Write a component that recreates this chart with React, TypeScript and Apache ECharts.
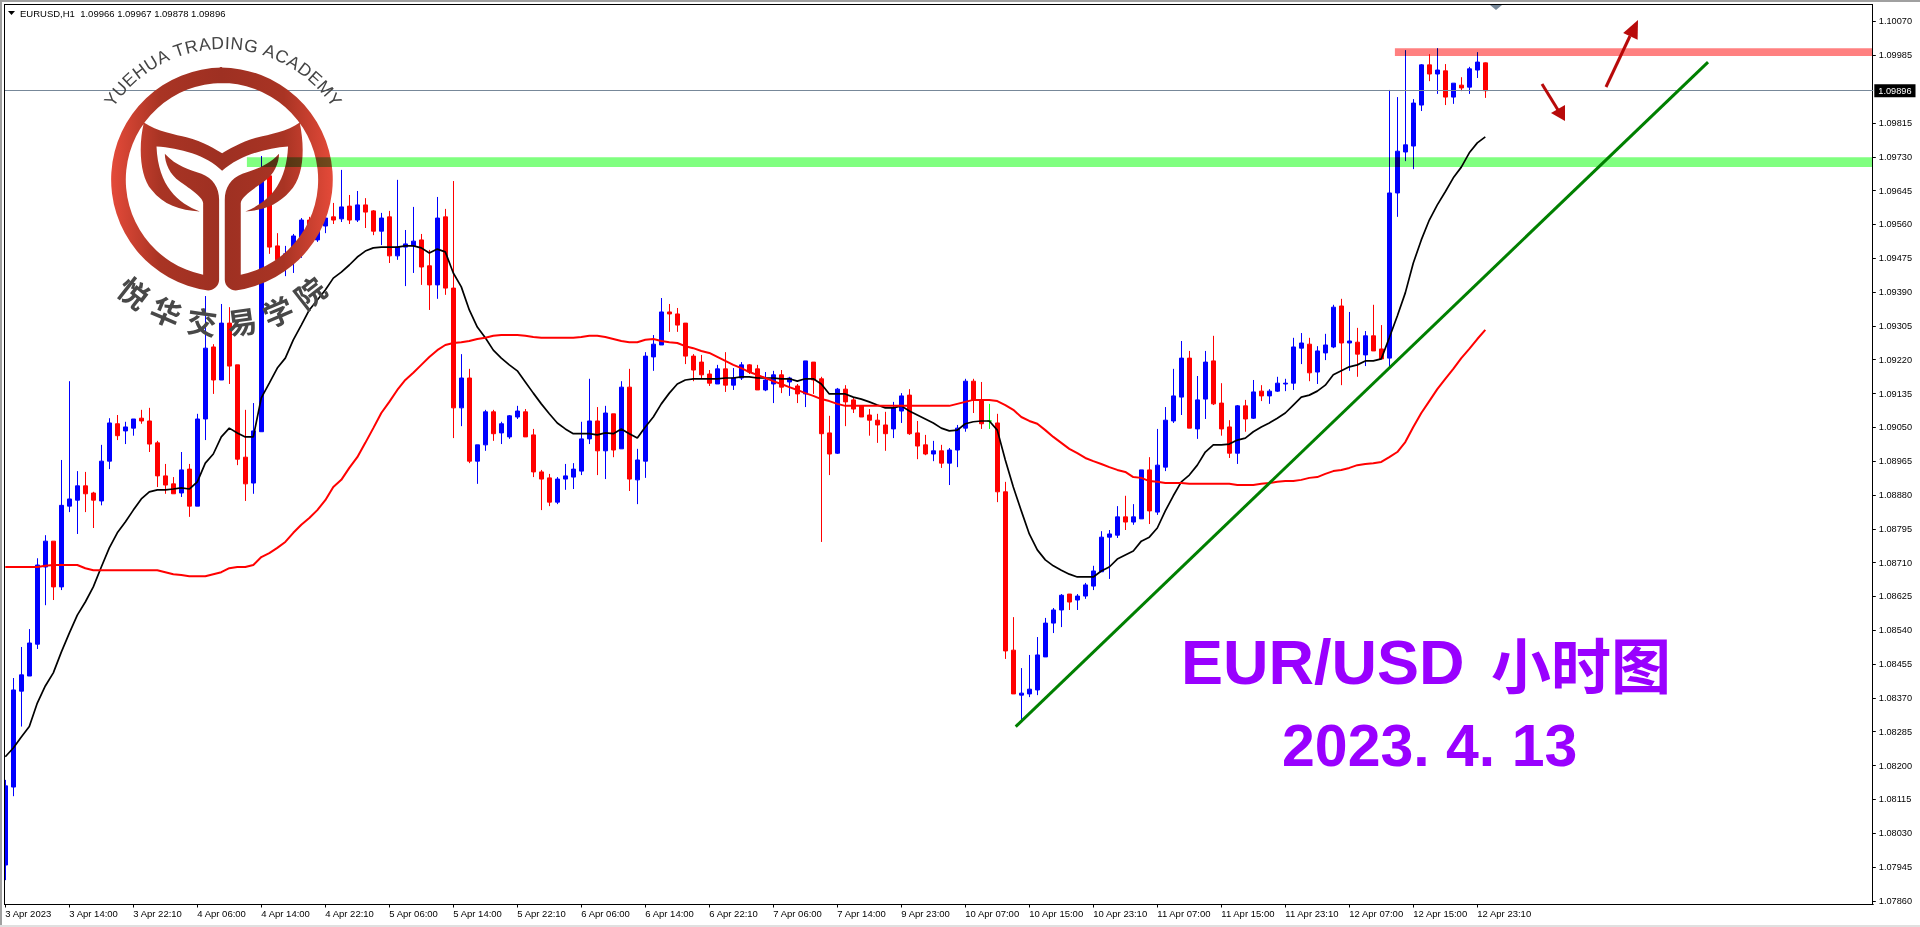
import React, { useEffect, useRef } from "react";
import * as echarts from "echarts";

// Prices are stored in points (1 point = 0.00001).
const opens = [
107950,108146,108387,108425,108505,108699,108764,108649,108852,108867,
108903,108885,108865,108965,109059,109041,109048,109073,109066,109011,
108928,108908,108885,108945,108852,109071,109252,109169,109312,109207,
108975,108910,109039,109682,109506,109456,109488,109528,109571,109521,
109556,109579,109574,109606,109571,109609,109594,109543,109579,109481,
109503,109506,109521,109456,109408,109579,109400,109099,109174,108965,
109006,109089,109036,109026,109076,109089,109031,108938,108923,108862,
108920,108925,108940,109021,109066,108991,109084,108996,109151,108918,
108965,109227,109257,109340,109335,109312,109229,109214,109184,109159,
109197,109156,109174,109207,109197,109144,109159,109182,109164,109154,
109134,109214,109172,109036,108985,109146,109119,109104,109081,109068,
109056,109046,109091,109131,109036,109006,108983,108991,108960,108993,
109048,109166,109119,109066,109061,108888,108490,108377,108380,108390,
108473,108558,108591,108631,108616,108626,108651,108687,108774,108779,
108825,108812,108820,108943,108837,108950,109066,109126,109224,109046,
109121,109217,109111,109051,108985,109104,109073,109141,109129,109141,
109159,109161,109249,109259,109189,109237,109252,109355,109262,109264,
109232,109280,109247,109224,109639,109742,109757,109860,109961,109938,
109946,109880,109910,109905,109948,109966];

const closes = [
108149,108390,108428,108508,108704,108764,108649,108854,108870,108903,
108883,108867,108965,109061,109029,109051,109071,109066,109008,108928,
108905,108883,108943,108852,109071,109249,109169,109312,109204,108970,
108908,109041,109669,109503,109471,109486,109531,109571,109533,109571,
109576,109571,109604,109571,109609,109591,109543,109576,109481,109503,
109511,109518,109453,109408,109576,109400,109099,109174,108965,109006,
109089,109034,109059,109079,109091,109026,108938,108920,108862,108920,
108928,108945,109021,109066,108991,109086,108993,109151,108920,108968,
109229,109259,109340,109335,109307,109229,109194,109182,109161,109197,
109156,109174,109207,109189,109144,109169,109182,109151,109174,109134,
109217,109169,109034,108983,109146,109114,109096,109076,109068,109056,
109034,109099,109129,109034,109003,108983,108991,108960,108993,109048,
109166,109119,109059,109066,108888,108488,108380,108382,108392,108478,
108558,108591,108628,108611,108626,108654,108689,108774,108782,108825,
108812,108825,108943,108840,108955,109068,109129,109224,109048,109119,
109214,109109,109046,108985,109104,109071,109139,109129,109141,109161,
109161,109252,109262,109187,109242,109257,109352,109262,109267,109234,
109280,109242,109222,109639,109744,109760,109865,109961,109938,109948,
109880,109915,109903,109951,109968,109896];

const lows = [
107912,108123,108298,108425,108493,108603,108616,108641,108837,108782,
108837,108797,108854,108945,109018,109008,109029,109059,108988,108900,
108883,108883,108875,108825,108852,109018,109134,109169,109159,108955,
108865,108883,109039,109486,109458,109430,109438,109476,109521,109516,
109538,109561,109566,109561,109566,109551,109533,109508,109463,109471,
109405,109438,109408,109345,109373,109383,109023,109053,108960,108908,
108991,109016,109008,109021,109071,109026,108925,108842,108852,108857,
108893,108895,108930,109008,108930,108920,108975,108996,108890,108857,
108923,109192,109257,109290,109290,109209,109166,109172,109154,109159,
109139,109144,109169,109184,109144,109141,109111,109136,109129,109111,
109101,109134,108762,108930,108983,109053,109086,109076,109029,109011,
108991,109023,109061,109031,108970,108980,108965,108948,108905,108950,
109039,109086,109046,109046,108862,108468,108380,108314,108372,108377,
108473,108533,108548,108591,108591,108619,108641,108687,108669,108772,
108792,108805,108820,108807,108830,108940,109061,109081,109048,109021,
109071,109106,109029,108973,108958,109039,109071,109116,109109,109139,
109141,109144,109209,109166,109159,109219,109249,109156,109192,109177,
109204,109242,109222,109199,109579,109719,109699,109845,109920,109888,
109860,109863,109895,109888,109928,109878];

const highs = [
108164,108420,108498,108543,108721,108779,108764,108968,109166,108940,
108938,108888,109006,109073,109081,109064,109071,109094,109099,109016,
108958,108925,108988,108958,109084,109380,109259,109360,109352,109207,
109094,109111,109732,109682,109538,109506,109536,109576,109579,109596,
109609,109614,109697,109634,109644,109626,109596,109589,109594,109672,
109546,109604,109536,109496,109629,109599,109669,109234,109197,109006,
109094,109094,109064,109081,109104,109096,109046,108943,108933,108925,
108958,108960,109064,109172,109101,109104,109084,109166,109197,108996,
109239,109282,109375,109360,109350,109312,109234,109232,109194,109207,
109239,109199,109214,109209,109207,109189,109192,109194,109177,109159,
109217,109214,109177,109079,109149,109156,109126,109104,109096,109084,
109089,109114,109136,109146,109066,109031,109016,109006,108998,109056,
109172,109172,109164,109109,109084,108913,108573,108445,108478,108523,
108571,108596,108631,108631,108631,108659,108702,108789,108792,108852,
108878,108857,108943,108975,109046,109101,109197,109267,109242,109179,
109242,109280,109161,109068,109106,109119,109169,109156,109146,109177,
109172,109275,109287,109275,109254,109285,109358,109373,109340,109300,
109292,109358,109307,109898,109880,109998,109875,109963,109988,110003,
109963,109915,109930,109956,109993,109967];

const maFast = [
108222,108244,108272,108298,108357,108400,108433,108485,108533,108578,
108611,108649,108699,108747,108785,108812,108842,108870,108888,108893,
108893,108895,108898,108895,108913,108960,108983,109026,109048,109036,
109026,109026,109124,109161,109199,109224,109270,109307,109345,109370,
109395,109425,109440,109458,109478,109493,109501,109503,109503,109503,
109506,109506,109501,109488,109498,109491,109438,109403,109345,109302,
109275,109244,109224,109207,109192,109164,109136,109109,109084,109061,
109046,109034,109034,109034,109031,109036,109034,109046,109034,109023,
109051,109076,109109,109136,109159,109169,109172,109172,109172,109172,
109174,109174,109177,109177,109174,109174,109174,109172,109172,109166,
109172,109172,109159,109134,109134,109134,109126,109121,109114,109106,
109099,109099,109104,109091,109081,109071,109061,109048,109041,109043,
109059,109064,109066,109066,109043,108968,108900,108840,108782,108742,
108717,108702,108691,108681,108674,108674,108674,108689,108699,108719,
108729,108739,108764,108774,108797,108840,108878,108913,108930,108955,
108988,109006,109006,109008,109018,109023,109039,109051,109061,109073,
109086,109106,109126,109131,109141,109156,109182,109192,109202,109207,
109217,109217,109222,109275,109330,109388,109463,109521,109571,109609,
109642,109677,109704,109740,109765,109780];

const maSlow = [
108699,108699,108699,108699,108699,108702,108704,108704,108704,108704,
108696,108691,108691,108691,108691,108691,108691,108691,108691,108691,
108686,108681,108679,108676,108676,108676,108681,108686,108696,108699,
108699,108704,108724,108734,108747,108762,108785,108805,108822,108842,
108867,108900,108918,108948,108975,109011,109048,109086,109114,109144,
109169,109187,109207,109227,109244,109257,109262,109264,109267,109272,
109275,109280,109282,109282,109282,109280,109277,109275,109275,109275,
109275,109275,109277,109280,109280,109277,109272,109267,109264,109264,
109270,109272,109267,109264,109262,109254,109249,109242,109237,109227,
109217,109207,109199,109189,109182,109174,109166,109159,109151,109144,
109136,109129,109121,109116,109109,109104,109104,109104,109104,109104,
109104,109104,109104,109104,109104,109104,109104,109104,109104,109109,
109114,109119,109119,109119,109116,109106,109094,109076,109066,109059,
109043,109026,109011,108996,108985,108973,108965,108958,108950,108943,
108938,108925,108923,108915,108913,108910,108910,108910,108908,108908,
108908,108908,108908,108908,108905,108905,108905,108908,108910,108913,
108915,108915,108918,108923,108925,108933,108940,108943,108948,108955,
108958,108960,108963,108975,108988,109013,109051,109086,109116,109146,
109172,109197,109224,109247,109272,109295];

const timeLabels = [
"3 Apr 2023","3 Apr 14:00","3 Apr 22:10","4 Apr 06:00","4 Apr 14:00","4 Apr 22:10",
"5 Apr 06:00","5 Apr 14:00","5 Apr 22:10","6 Apr 06:00","6 Apr 14:00","6 Apr 22:10",
"7 Apr 06:00","7 Apr 14:00","9 Apr 23:00","10 Apr 07:00","10 Apr 15:00","10 Apr 23:10",
"11 Apr 07:00","11 Apr 15:00","11 Apr 23:10","12 Apr 07:00","12 Apr 15:00","12 Apr 23:10",
];
const priceTicks = [
1.1007,1.09985,1.09815,1.0973,1.09645,1.0956,1.09475,1.0939,1.09305,1.0922,1.09135,1.0905,
1.08965,1.0888,1.08795,1.0871,1.08625,1.0854,1.08455,1.0837,1.08285,1.082,1.08115,1.0803,
1.07945,1.0786,
];
const lastPrice = 1.09896;
const dojiIndex = 123;
// [barFrom, barTo, priceFrom, priceTo]
const supportZone = [30.2, 233.37, 1.09729, 1.09704];
const resistanceZone = [173.7, 233.37, 1.10003, 1.09983];
const trendLine = [[126.3, 1.08298], [212.84, 1.09968]];

const BAR_SLOTS = 234;
const FONT = "'Liberation Sans', Arial, sans-serif";
const CJK = "'Noto Sans CJK SC', sans-serif";
const LOGO_TEXT = "YUEHUA TRADING ACADEMY";
const LOGO_CN = "悦华交易学院";
const GREEN_ZONE = "#80ff80";
const RED_ZONE = "#ff8080";

const pts = (v: number) => v / 100000;
const categories: string[] = [];
for (let i = 0; i < BAR_SLOTS; i++) categories.push(i % 8 === 0 && i / 8 < timeLabels.length ? timeLabels[i / 8] : "");

const LOGO_D =
  "M495,462 C530,500 570,510 605,522 C640,535 658,565 658,600 L658,840 C658,860 640,872 625,872 A336,336 0 0 1 667,203 L667,249 A291,291 0 0 0 610,825 L610,610 C610,590 560,560 540,545 C510,525 495,490 495,462 Z " +
  "M838,462 C838,490 823,525 793,545 C773,560 723,590 723,610 L723,825 A291,291 0 0 0 660,249 L660,203 A336,336 0 0 1 708,872 C693,872 675,860 675,840 L675,600 C675,565 693,535 728,522 C763,510 803,500 838,462 Z " +
  "M432,368 C470,395 530,405 560,412 C610,425 650,450 667,460 C685,450 725,425 775,412 C805,405 865,395 900,368 C915,440 915,530 870,575 C835,615 790,632 737,635 C800,610 860,560 865,440 C800,445 720,465 667,513 C620,465 540,445 470,440 C475,560 535,610 600,635 C540,632 490,615 455,570 C420,530 415,440 432,368 Z";
echarts.graphic.registerShape("logo", echarts.graphic.extendPath(LOGO_D, {}));

function arcText(): any[] {
  const ctx = document.createElement("canvas").getContext("2d")!;
  const size = 17.5;
  ctx.font = `${size}px Liberation Sans`;
  const widths = LOGO_TEXT.split("").map((c) => ctx.measureText(c).width);
  const total = widths.reduce((a, b) => a + b, 0);
  const span = (113 * Math.PI) / 180;
  const cx = 223, cy = 181, r = 129;
  let run = 0;
  const out: any[] = [];
  LOGO_TEXT.split("").forEach((c, i) => {
    const phi = ((run + widths[i] / 2) / total - 0.5) * span;
    run += widths[i];
    out.push({
      type: "text", z: 55, silent: true,
      x: cx + r * Math.sin(phi), y: cy - r * Math.cos(phi),
      rotation: -phi,
      style: { text: c, fill: "#444444", font: `${size}px ${FONT}`, textAlign: "center", textVerticalAlign: "bottom" },
    });
  });
  const angles = [-38, -23, -8, 8, 23, 38];
  LOGO_CN.split("").forEach((c, i) => {
    const a = (angles[i] * Math.PI) / 180;
    out.push({
      type: "text", z: 55, silent: true,
      x: 222 + 142 * Math.sin(a), y: 180 + 142 * Math.cos(a),
      rotation: a,
      style: { text: c, fill: "#484848", font: `bold 30px ${CJK}`, textAlign: "center", textVerticalAlign: "middle" },
    });
  });
  return out;
}

function zoneItem(fill: string) {
  return (_p: any, api: any) => {
    const a = api.coord([api.value(0), api.value(2)]);
    const b = api.coord([api.value(1), api.value(3)]);
    return {
      type: "rect",
      shape: { x: a[0], y: a[1], width: b[0] - a[0], height: b[1] - a[1] },
      style: { fill },
    };
  };
}

export default function App() {
  const ref = useRef<HTMLDivElement>(null);
  useEffect(() => {
    document.body.style.margin = "0";
    const chart = echarts.init(ref.current!, undefined, { renderer: "svg" });
    const candleData = opens.map((o, i) => {
      const value = [pts(o), pts(closes[i]), pts(lows[i]), pts(highs[i])];
      if (i === dojiIndex)
        return { value, itemStyle: { color: "#00ff00", color0: "#00ff00", borderColor: "#00ff00", borderColor0: "#00ff00", borderColorDoji: "#00ff00" } };
      return value;
    });
    const arrow = (x1: number, y1: number, x2: number, y2: number, tri: number[][]) => [
      { type: "line", z: 60, silent: true, shape: { x1, y1, x2, y2 }, style: { stroke: "#b80a0a", lineWidth: 3 } },
      { type: "polygon", z: 60, silent: true, shape: { points: tri }, style: { fill: "#b80a0a" } },
    ];
    // The zones tint what lies under them, as in the reference.
    const tintZones = () => {
      ref.current?.querySelectorAll("svg path, svg rect").forEach((el: any) => {
        const f = (el.getAttribute("fill") || "").toLowerCase();
        if (f === GREEN_ZONE || f === RED_ZONE || f === "rgb(128,255,128)" || f === "rgb(255,128,128)") el.style.mixBlendMode = "multiply";
      });
    };
    chart.on("finished", tintZones);
    chart.setOption({
      animation: false,
      backgroundColor: "#ffffff",
      grid: { left: 1.3, top: 4.5, width: 1872, height: 900, containLabel: false },
      xAxis: [
        {
          type: "category",
          data: categories,
          boundaryGap: true,
          axisLine: { show: true, lineStyle: { color: "#000000", width: 1 } },
          axisTick: {
            show: true, alignWithLabel: true, length: 3,
            interval: (i: number) => i % 8 === 0 && i / 8 < timeLabels.length,
            lineStyle: { color: "#000000" },
          },
          axisLabel: {
            interval: (i: number) => i % 8 === 0 && i / 8 < timeLabels.length,
            align: "left", margin: 4, fontSize: 9.5, fontFamily: FONT, color: "#000000", hideOverlap: false,
          },
          splitLine: { show: false },
        },
        { type: "value", min: -0.5, max: BAR_SLOTS - 0.5, show: false, splitLine: { show: false } },
      ],
      yAxis: {
        type: "value",
        position: "right",
        offset: -1,
        min: 1.078508,
        max: 1.101127,
        scale: true,
        axisLine: { show: true, onZero: false, lineStyle: { color: "#000000", width: 1 } },
        axisTick: { show: true, length: 3.5, customValues: priceTicks, lineStyle: { color: "#000000" } },
        axisLabel: {
          customValues: priceTicks, margin: 6.5, fontSize: 9.2, fontFamily: FONT, color: "#000000",
          formatter: (v: number) => v.toFixed(5),
        },
        splitLine: { show: false },
      },
      series: [
        {
          name: "EURUSD,H1",
          type: "candlestick",
          data: candleData,
          barWidth: 4,
          z: 3,
          silent: true,
          itemStyle: {
            color: "#0000ff", color0: "#ff0000", borderColor: "#0000ff", borderColor0: "#ff0000",
            borderColorDoji: "#0000ff", borderWidth: 1,
          },
        },
        {
          name: "MA fast", type: "line", data: maFast.map(pts), symbol: "none", silent: true, z: 4,
          lineStyle: { color: "#000000", width: 1.7 },
          markLine: {
            silent: true,
            symbol: "none",
            precision: 5,
            lineStyle: { color: "#778899", width: 1, type: "solid" },
            label: {
              show: true, position: "end", distance: 1,
              formatter: () => lastPrice.toFixed(5),
              backgroundColor: "#000000", color: "#ffffff",
              fontSize: 9.2, fontFamily: FONT, padding: [2, 4],
            },
            data: [{ yAxis: lastPrice }],
          },
        },
        { name: "MA slow", type: "line", data: maSlow.map(pts), symbol: "none", silent: true, z: 4, lineStyle: { color: "#ff0000", width: 2 } },
        { name: "Trend", type: "line", xAxisIndex: 1, data: trendLine, symbol: "none", silent: true, z: 5, lineStyle: { color: "#008000", width: 3 } },
        { name: "Support", type: "custom", xAxisIndex: 1, silent: true, z: 80, clip: false, encode: { x: [0, 1], y: [2, 3] }, data: [supportZone], renderItem: zoneItem(GREEN_ZONE) },
        { name: "Resistance", type: "custom", xAxisIndex: 1, silent: true, z: 80, clip: false, encode: { x: [0, 1], y: [2, 3] }, data: [resistanceZone], renderItem: zoneItem(RED_ZONE) },
      ],
      graphic: {
        elements: [
          {
            type: "logo", x: 0, y: 0, scaleX: 1 / 3, scaleY: 1 / 3, z: 50, silent: true,
            style: {
              fill: {
                type: "linear", x: 0, y: 0, x2: 1, y2: 0,
                colorStops: [
                  { offset: 0, color: "#e44a39" },
                  { offset: 0.22, color: "#a93424" },
                  { offset: 0.5, color: "#9e3022" },
                  { offset: 0.78, color: "#a93424" },
                  { offset: 1, color: "#e44a39" },
                ],
              },
            },
          },
          ...arcText(),
          ...arrow(1542, 84, 1558, 110, [[1565, 121], [1565, 105], [1551, 113]]),
          ...arrow(1606, 87, 1630, 36, [[1638, 20], [1637.6, 39.7], [1623.2, 32.9]]),
          { type: "text", z: 60, silent: true, x: 1181, y: 662, style: { text: "EUR/USD", fill: "#9900ff", font: `bold 63px ${FONT}`, textVerticalAlign: "middle" } },
          { type: "text", z: 60, silent: true, x: 1491, y: 662, style: { text: "小时图", fill: "#9900ff", font: `bold 60px ${CJK}`, textVerticalAlign: "middle" } },
          { type: "text", z: 60, silent: true, x: 1282, y: 746, style: { text: "2023. 4. 13", fill: "#9900ff", font: `bold 59px ${FONT}`, textVerticalAlign: "middle" } },
          // chart window furniture
          { type: "rect", z: 90, silent: true, shape: { x: 0, y: 0, width: 4, height: 927 }, style: { fill: "#ffffff" } },
          { type: "rect", z: 90, silent: true, shape: { x: 0, y: 0, width: 2, height: 927 }, style: { fill: "#a0a0a0" } },
          { type: "rect", z: 90, silent: true, shape: { x: 0, y: 0, width: 1920, height: 2 }, style: { fill: "#a0a0a0" } },
          { type: "rect", z: 90, silent: true, shape: { x: 0, y: 925, width: 1920, height: 2 }, style: { fill: "#e0e0e0" } },
          { type: "rect", z: 90, silent: true, shape: { x: 4, y: 4, width: 1869, height: 1 }, style: { fill: "#000000" } },
          { type: "rect", z: 90, silent: true, shape: { x: 4, y: 4, width: 1, height: 901 }, style: { fill: "#000000" } },
          { type: "polygon", z: 91, silent: true, shape: { points: [[8, 11], [15, 11], [11.5, 15]] }, style: { fill: "#000000" } },
          { type: "polygon", z: 91, silent: true, shape: { points: [[1490, 5], [1502, 5], [1496, 10]] }, style: { fill: "#778899" } },
          {
            type: "text", z: 91, silent: true, x: 20, y: 13,
            style: { text: "EURUSD,H1  1.09966 1.09967 1.09878 1.09896", fill: "#000000", font: `9.5px ${FONT}`, textVerticalAlign: "middle" },
          },
        ],
      },
    });
    tintZones();
    requestAnimationFrame(tintZones);
    return () => chart.dispose();
  }, []);
  return <div ref={ref} style={{ width: 1920, height: 927, overflow: "hidden", background: "#fff" }} />;
}
